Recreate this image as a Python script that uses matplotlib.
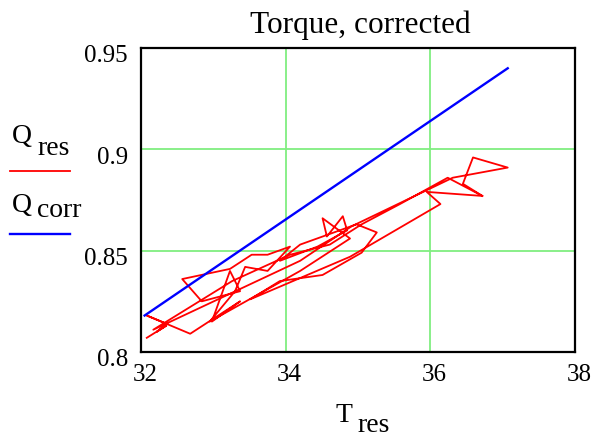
import numpy as np
import matplotlib.pyplot as plt
from matplotlib.transforms import ScaledTranslation

plt.rcParams['font.family'] = ['Liberation Serif', 'DejaVu Serif']

# measured torque vs. temperature (red trace)
t_res = [32.08, 32.35, 32.22, 32.35, 32.08, 32.68, 33.37, 32.98, 33.23, 33.37,
         32.84, 32.57, 33.23, 33.53, 33.75, 34.06, 33.75, 33.44, 33.30, 32.95,
         34.20, 34.89, 34.51, 34.57, 34.79, 34.85, 34.44, 33.92, 34.20, 34.98,
         35.26, 35.05, 34.51, 33.92, 33.51, 34.89, 36.14, 35.95, 36.72, 36.24,
         35.58, 35.05, 34.61, 34.06, 33.26, 32.17, 34.20, 34.91, 36.31, 37.07,
         36.59, 36.45, 36.72]
q_res = [0.807, 0.813, 0.810, 0.814, 0.818, 0.809, 0.825, 0.815, 0.840, 0.830,
         0.825, 0.836, 0.841, 0.848, 0.848, 0.852, 0.840, 0.842, 0.830, 0.815,
         0.840, 0.856, 0.866, 0.857, 0.867, 0.860, 0.852, 0.845, 0.853, 0.863,
         0.859, 0.849, 0.838, 0.835, 0.826, 0.847, 0.873, 0.879, 0.877, 0.886,
         0.873, 0.863, 0.853, 0.848, 0.835, 0.811, 0.845, 0.862, 0.886, 0.891,
         0.896, 0.883, 0.877]

# corrected torque (blue line)
t_corr = [32.05, 37.07]
q_corr = [0.818, 0.940]

fig = plt.figure(figsize=(5.97, 4.39), dpi=100)
ax = fig.add_axes([141/597, 1-353/439, 434/597, 304/439])

ax.plot(t_res, q_res, color='#ff0000', lw=1.3, zorder=3)
ax.plot(t_corr, q_corr, color='#0000ff', lw=1.7, zorder=4)

ax.set_xlim(32, 38)
ax.set_ylim(0.8, 0.95)
ax.set_xticks([32, 34, 36, 38])
ax.set_yticks([0.8, 0.85, 0.9, 0.95])
ax.set_xticklabels(['32', '34', '36', '38'])
ax.set_yticklabels(['0.8', '0.85', '0.9', '0.95'])
ax.tick_params(length=0, labelsize=18)
ax.tick_params(axis='y', pad=9.5)
ax.tick_params(axis='x', pad=8)
ax.grid(True, color='#80ee80', lw=1.3)
ax.set_axisbelow(True)
for s in ax.spines.values():
    s.set_linewidth(1.6)

# nudge tick labels a little, the way the labels sit off their grid lines
for lab in ax.get_yticklabels():
    lab.set_transform(lab.get_transform() + ScaledTranslation(0, -5/100, fig.dpi_scale_trans))
for lab in ax.get_xticklabels():
    lab.set_transform(lab.get_transform() + ScaledTranslation(4/100, 0, fig.dpi_scale_trans))

def px(x, y):
    return x/597, 1 - y/439

fig.text(*px(360, 33), 'Torque, corrected', fontsize=22.5, ha='center', va='baseline')

# x axis label with subscript
fig.text(*px(336, 422), 'T', fontsize=20, va='baseline')
fig.text(*px(357, 432), 'res', fontsize=20, va='baseline')

# legend at the left
fig.text(*px(12, 143), 'Q', fontsize=20, va='baseline')
fig.text(*px(37, 155), 'res', fontsize=20, va='baseline')
fig.add_artist(plt.Line2D([10/597, 70/597], [1-172/439]*2, color='#ff0000', lw=1.3))
fig.text(*px(12, 212), 'Q', fontsize=20, va='baseline')
fig.text(*px(37, 217), 'corr', fontsize=20, va='baseline')
fig.add_artist(plt.Line2D([10/597, 70/597], [1-235/439]*2, color='#0000ff', lw=1.7))

fig.savefig('out.png', dpi=100)
